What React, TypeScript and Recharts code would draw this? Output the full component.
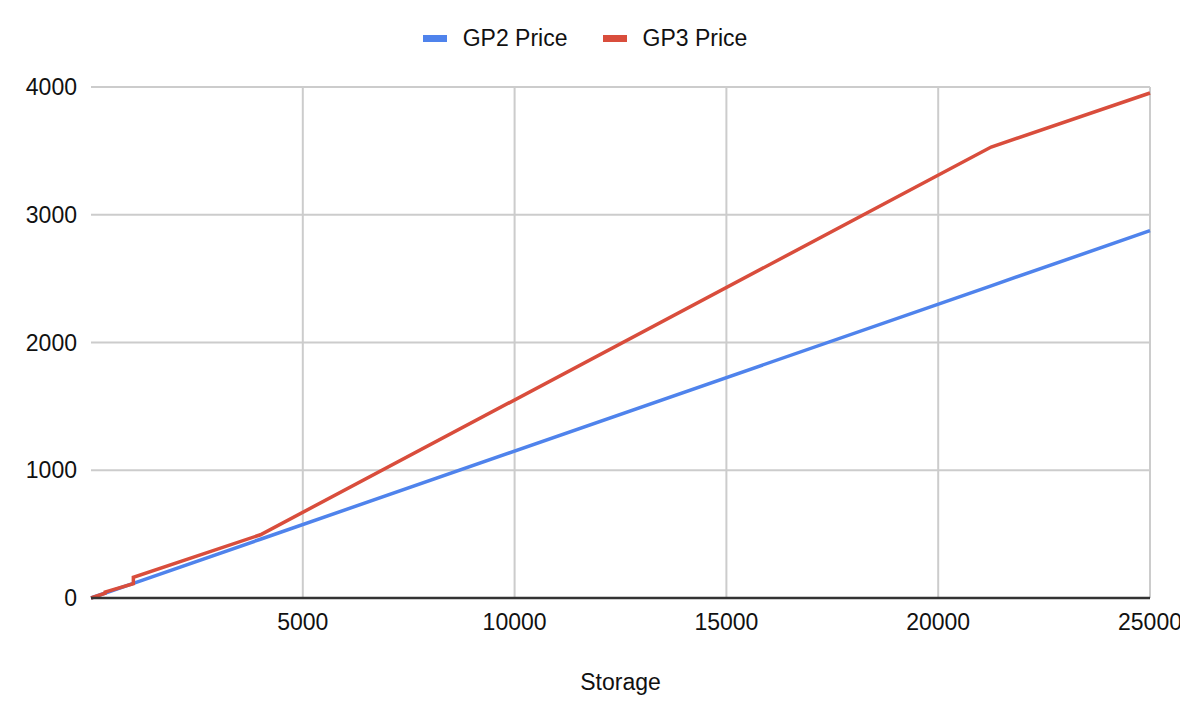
import { LineChart, Line, XAxis, YAxis, CartesianGrid, ReferenceLine } from 'recharts';

const SERIES = ['GP2 Price', 'GP3 Price'];
const COLORS = ['#4f83ec', '#d94d3c'];

// storage (GB) -> monthly price
const gp2Storage = [0, 1000, 4000, 21250, 25000];
const gp2Price = [0, 115, 460, 2444, 2875];

const gp3Storage = [0, 334, 334, 1000, 1000, 4000, 21250, 25000];
const gp3Price = [0, 38, 46, 112, 162, 495, 3530, 3953];

const xTicks = [5000, 10000, 15000, 20000, 25000];
const yTicks = [0, 1000, 2000, 3000, 4000];

const gp2Data = gp2Storage.map((s, i) => ({ storage: s, price: gp2Price[i] }));
const gp3Data = gp3Storage.map((s, i) => ({ storage: s, price: gp3Price[i] }));

const FONT = '"Liberation Sans", Arial, sans-serif';
const TEXT = '#111';

export default function App() {
  return (
    <div style={{ position: 'relative', width: 1180, height: 714, fontFamily: FONT }}>
      {/* Legend */}
      <div
        style={{
          position: 'absolute',
          top: 17,
          left: 0,
          width: 1154,
          display: 'flex',
          justifyContent: 'center',
          gap: 35,
          fontSize: 23,
          color: TEXT,
        }}
      >
        {SERIES.map((name, i) => (
          <div key={name} style={{ display: 'flex', alignItems: 'center', gap: 16 }}>
            <span style={{ width: 24, height: 7, background: COLORS[i], display: 'inline-block' }} />
            <span>{name}</span>
          </div>
        ))}
      </div>

      <LineChart width={1180} height={714} margin={{ top: 79, right: 38, left: 8, bottom: 24 }}>
        <CartesianGrid vertical={false} stroke="#cccccc" strokeWidth={2} />
        {xTicks.map(t => (
          <ReferenceLine key={t} x={t} stroke="#cccccc" strokeWidth={2} />
        ))}
        <XAxis
          dataKey="storage"
          type="number"
          domain={[0, 25000]}
          ticks={xTicks}
          allowDuplicatedCategory={false}
          height={100}
          tickLine={false}
          tickSize={0}
          tickMargin={16}
          axisLine={{ stroke: '#333333', strokeWidth: 2.5 }}
          tick={{ fill: TEXT, fontSize: 23, fontFamily: FONT }}
          label={{ value: 'Storage', position: 'insideBottom', offset: 8, fill: TEXT, fontSize: 23, fontFamily: FONT }}
        />
        <YAxis
          type="number"
          domain={[0, 4000]}
          ticks={yTicks}
          width={75}
          axisLine={false}
          tickLine={false}
          tickSize={0}
          tickMargin={14}
          tick={{ fill: TEXT, fontSize: 23, fontFamily: FONT }}
        />
        <Line
          data={gp2Data}
          dataKey="price"
          name={SERIES[0]}
          type="linear"
          stroke={COLORS[0]}
          strokeWidth={3.5}
          dot={false}
          isAnimationActive={false}
        />
        <Line
          data={gp3Data}
          dataKey="price"
          name={SERIES[1]}
          type="linear"
          stroke={COLORS[1]}
          strokeWidth={3.5}
          dot={false}
          isAnimationActive={false}
        />
      </LineChart>
    </div>
  );
}
